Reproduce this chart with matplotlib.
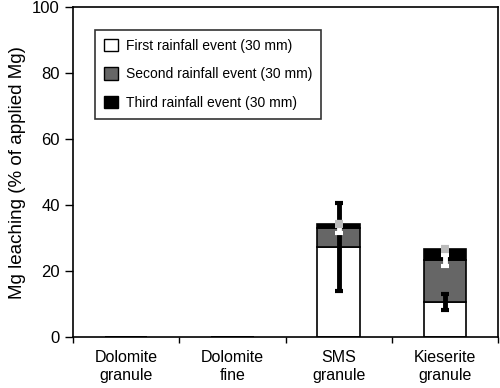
import numpy as np
import matplotlib
matplotlib.use('Agg')
import matplotlib.pyplot as plt
from matplotlib.patches import Patch

categories = ['Dolomite\ngranule', 'Dolomite\nfine', 'SMS\ngranule', 'Kieserite\ngranule']
first = [0, 0, 27.2, 10.6]
second = [0, 0, 6.0, 12.7]
third = [0, 0, 1.2, 3.3]
err_first = [0, 0, 13.3, 2.5]
err_second = [0, 0, 1.6, 1.7]
err_third = [0, 0, 0.6, 0.6]


def main():
    plt.rcParams['font.family'] = ['Liberation Sans', 'DejaVu Sans']
    fig = plt.figure(figsize=(5, 3.88), dpi=100)
    ax = fig.add_axes([0.146, 0.131, 0.85, 0.851])

    x = np.arange(len(categories))
    f = np.array(first)
    s = np.array(second)
    t = np.array(third)
    w = 0.4
    ax.bar(x, f, w, color='white', edgecolor='black', linewidth=1.2, zorder=2)
    ax.bar(x, s, w, bottom=f, color='#666666', edgecolor='black', linewidth=1.2, zorder=2)
    ax.bar(x, t, w, bottom=f + s, color='black', edgecolor='black', linewidth=1.2, zorder=2)

    has = f > 0
    ax.errorbar(x[has], f[has], yerr=np.array(err_first)[has], fmt='none', ecolor='black',
                elinewidth=3.5, capsize=3, capthick=3, zorder=3)
    ax.errorbar(x[has], (f + s)[has], yerr=np.array(err_second)[has], fmt='none', ecolor='white',
                elinewidth=3.5, capsize=3, capthick=3, zorder=4)
    ax.errorbar(x[has], (f + s + t)[has], yerr=np.array(err_third)[has], fmt='none', ecolor='#bbbbbb',
                elinewidth=3.5, capsize=3, capthick=3, zorder=4)

    ax.set_xlim(-0.5, len(categories) - 0.5)
    ax.set_ylim(0, 100)
    ax.set_yticks(range(0, 101, 20))
    ax.set_xticks(x)
    ax.set_xticklabels(categories, fontsize=11.5, linespacing=1.3)
    ax.set_xticks(np.arange(-0.5, len(categories), 1), minor=True)
    ax.tick_params(axis='x', which='major', length=0, pad=9)
    ax.tick_params(axis='x', which='minor', length=4, width=1, direction='out')
    ax.tick_params(axis='y', length=6, width=1, direction='out', labelsize=12)
    ax.set_ylabel('Mg leaching (% of applied Mg)', fontsize=13.5, labelpad=4)
    for sp in ax.spines.values():
        sp.set_linewidth(1.2)

    handles = [Patch(facecolor='white', edgecolor='black', label='First rainfall event (30 mm)'),
               Patch(facecolor='#666666', edgecolor='black', label='Second rainfall event (30 mm)'),
               Patch(facecolor='black', edgecolor='black', label='Third rainfall event (30 mm)')]
    leg = ax.legend(handles=handles, loc='upper left', bbox_to_anchor=(0.035, 0.952), fontsize=10,
                    frameon=True, fancybox=False, edgecolor='black', handlelength=1.0,
                    handleheight=1.0, labelspacing=1.05, borderpad=0.65, handletextpad=0.6)
    leg.get_frame().set_linewidth(1.2)

    fig.savefig('out.png', dpi=100)


if __name__ == "__main__":
    main()
